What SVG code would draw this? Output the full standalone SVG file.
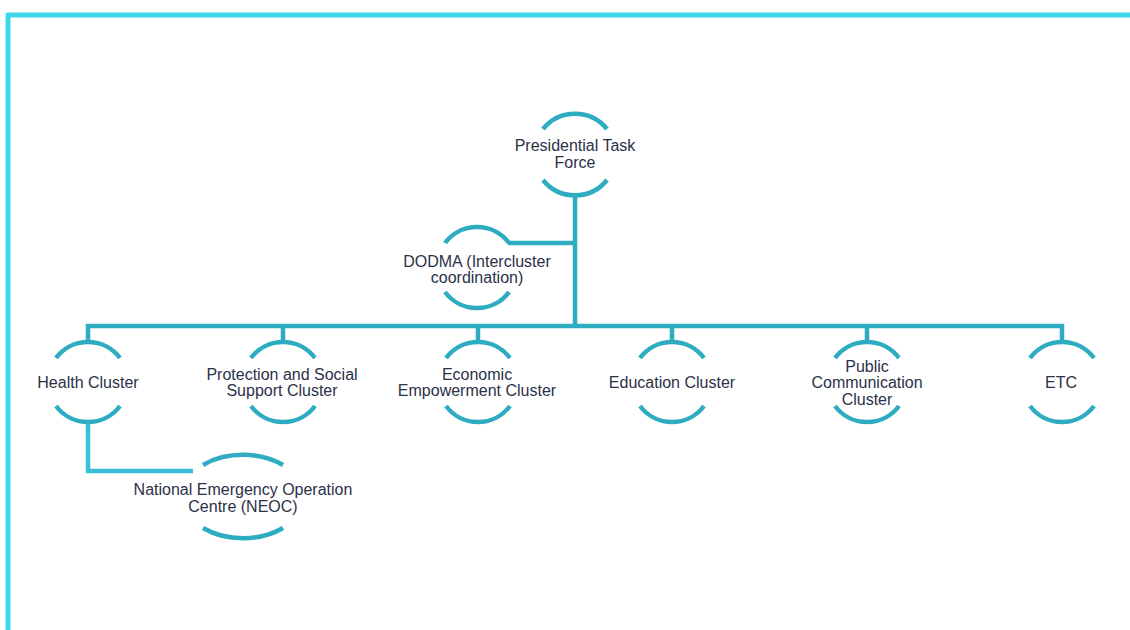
<svg xmlns="http://www.w3.org/2000/svg" width="1130" height="630" viewBox="0 0 1130 630">
<style>
.arc{fill:none;stroke:#2eacc1;stroke-width:4.5;}
.con{fill:none;stroke:#2eacc1;stroke-width:4.5;stroke-linejoin:miter;}
.con2{fill:none;stroke:#38c0d6;stroke-width:4.5;}
.t{font-family:"Liberation Sans",Arial,sans-serif;font-size:16px;fill:#2b3148;text-anchor:middle;}
</style>
<rect width="1130" height="630" fill="#ffffff"/>
<path d="M8,632 L8,15 L1132,15" fill="none" stroke="#3dd7ec" stroke-width="5" stroke-linejoin="round"/>
<g id="connectors">
<path class="con" d="M575,195 L575,326"/>
<path class="con" d="M508,243 L575,243"/>
<path class="con" d="M88,343 L88,326 L1062,326 L1062,343"/>
<path class="con" d="M283,326 L283,343"/>
<path class="con" d="M478,326 L478,343"/>
<path class="con" d="M672,326 L672,343"/>
<path class="con" d="M867,326 L867,343"/>
<path class="con2" d="M88,421 L88,471 L193,471"/>
</g>
<g id="presidential">
<path class="arc" d="M543,129 A41,41 0 0 1 607,129"/>
<path class="arc" d="M543,180 A41,41 0 0 0 607,180"/>
<text class="t" x="575" y="150.5">Presidential Task</text>
<text class="t" x="575" y="167.5">Force</text>
</g>
<g id="dodma">
<path class="arc" d="M445,243 A40,40 0 0 1 509,243"/>
<path class="arc" d="M445,292 A40,40 0 0 0 509,292"/>
<text class="t" x="477" y="266.5">DODMA (Intercluster</text>
<text class="t" x="477" y="283">coordination)</text>
</g>
<g id="health">
<path class="arc" d="M56,358 A40,40 0 0 1 120,358"/>
<path class="arc" d="M56,406 A40,40 0 0 0 120,406"/>
<text class="t" x="88" y="387.5">Health Cluster</text>
</g>
<g id="protection">
<path class="arc" d="M251,358 A40,40 0 0 1 315,358"/>
<path class="arc" d="M251,406 A40,40 0 0 0 315,406"/>
<text class="t" x="282" y="379.5">Protection and Social</text>
<text class="t" x="282" y="395.5">Support Cluster</text>
</g>
<g id="economic">
<path class="arc" d="M446,358 A40,40 0 0 1 510,358"/>
<path class="arc" d="M446,406 A40,40 0 0 0 510,406"/>
<text class="t" x="477" y="379.5">Economic</text>
<text class="t" x="477" y="395.5">Empowerment Cluster</text>
</g>
<g id="education">
<path class="arc" d="M640,358 A40,40 0 0 1 704,358"/>
<path class="arc" d="M640,406 A40,40 0 0 0 704,406"/>
<text class="t" x="672" y="387.5">Education Cluster</text>
</g>
<g id="public">
<path class="arc" d="M835,358 A40,40 0 0 1 899,358"/>
<path class="arc" d="M835,406 A40,40 0 0 0 899,406"/>
<text class="t" x="867" y="372">Public</text>
<text class="t" x="867" y="388">Communication</text>
<text class="t" x="867" y="404.5">Cluster</text>
</g>
<g id="etc">
<path class="arc" d="M1030,358 A40,40 0 0 1 1094,358"/>
<path class="arc" d="M1030,406 A40,40 0 0 0 1094,406"/>
<text class="t" x="1061" y="387.5">ETC</text>
</g>
<g id="neoc">
<path class="arc" d="M203,465 A61,41.5 0 0 1 283,465"/>
<path class="arc" d="M203,528 A61,41.5 0 0 0 283,528"/>
<text class="t" x="243" y="495">National Emergency Operation</text>
<text class="t" x="243" y="511.5">Centre (NEOC)</text>
</g>
</svg>
